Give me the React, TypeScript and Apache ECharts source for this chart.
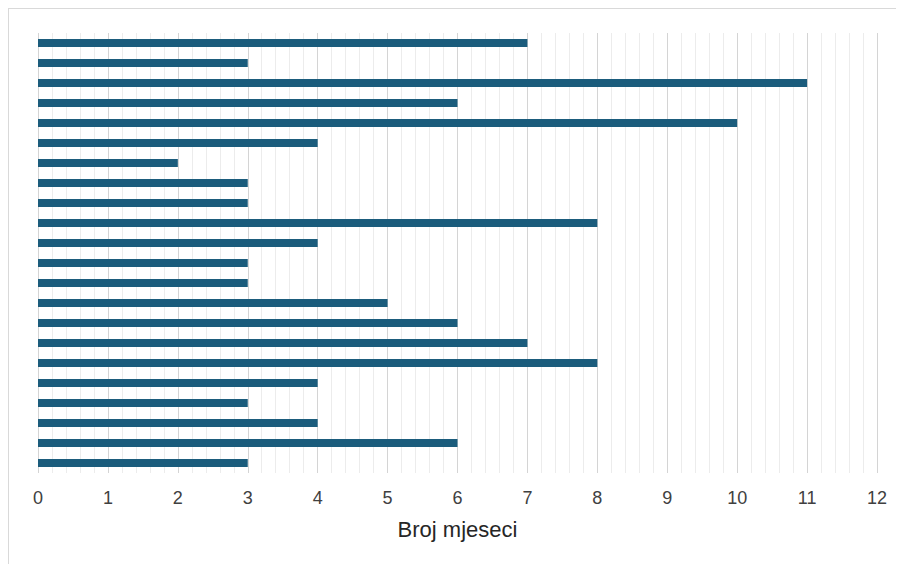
import React, { useEffect, useRef } from "react";
import * as echarts from "echarts";

const categories: string[] = Array.from({ length: 22 }, (_, i) => `R${i + 1}`);
const values: number[] = [7, 3, 11, 6, 10, 4, 2, 3, 3, 8, 4, 3, 3, 5, 6, 7, 8, 4, 3, 4, 6, 3];
const axisName = "Broj mjeseci";

export default function App() {
  const ref = useRef<HTMLDivElement>(null);
  useEffect(() => {
    if (!ref.current) return;
    const chart = echarts.init(ref.current, undefined, { renderer: "svg" });
    chart.setOption({
      animation: false,
      backgroundColor: "#ffffff",
      grid: { left: 29, right: 27, top: 24, bottom: 91 },
      xAxis: {
        type: "value",
        min: 0,
        max: 12,
        interval: 1,
        name: axisName,
        nameLocation: "middle",
        nameGap: 45,
        nameTextStyle: { color: "#262626", fontSize: 22, fontFamily: "Liberation Sans" },
        axisLine: { show: false },
        axisTick: { show: false },
        axisLabel: { color: "#404040", fontSize: 18, margin: 16, fontFamily: "Liberation Sans" },
        splitLine: { show: true, lineStyle: { color: "#d4d4d4", width: 1 } },
        minorTick: { show: false, splitNumber: 5 },
        minorSplitLine: { show: true, lineStyle: { color: "#ececec", width: 1 } },
      },
      yAxis: {
        type: "category",
        data: categories,
        inverse: true,
        axisLine: { show: false },
        axisTick: { show: false },
        axisLabel: { show: false },
        splitLine: { show: false },
      },
      series: [
        {
          type: "bar",
          data: values,
          barWidth: 8,
          itemStyle: { color: "#1b5c7c" },
        },
      ],
    });
    return () => chart.dispose();
  }, []);
  return (
    <div style={{ width: 895, height: 555, border: "1px solid #d9d9d9", borderRight: "none", borderBottom: "none" }}>
      <div ref={ref} style={{ width: 895, height: 555 }} />
    </div>
  );
}
